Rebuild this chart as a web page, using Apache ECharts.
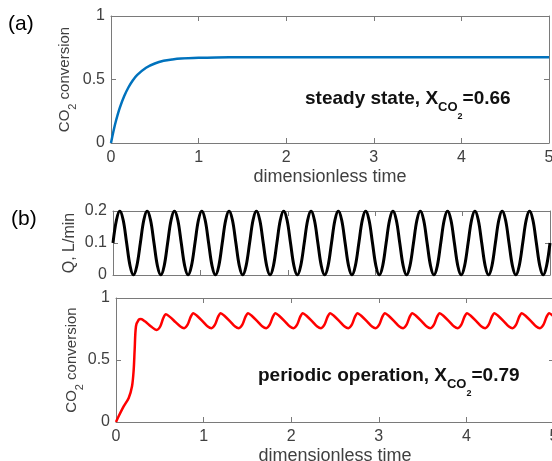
<!DOCTYPE html>
<html>
<head>
<meta charset="utf-8">
<title>CO2 conversion</title>
<script src="https://cdn.jsdelivr.net/npm/echarts@6/dist/echarts.min.js"></script>
</head>
<body style="margin:0">
<div id="main" style="width:552px;height:461px;"></div>
<script>
// (a) steady state run
var steadyT = [0, 0.03, 0.06, 0.1, 0.15, 0.2, 0.25, 0.3, 0.4, 0.5, 0.6, 0.7, 0.8, 1.0, 1.2, 1.5, 2, 3, 4, 5];
var steadyX = [0, 0.099, 0.183, 0.277, 0.368, 0.439, 0.494, 0.536, 0.593, 0.626, 0.647, 0.658, 0.665, 0.671, 0.674, 0.675, 0.675, 0.675, 0.675, 0.675];

// (b) feed flow, L/min
var flowT = [
  0, 0.039, 0.078, 0.117, 0.156, 0.195, 0.234, 0.273,
  0.313, 0.352, 0.391, 0.430, 0.469, 0.508, 0.547, 0.586,
  0.625, 0.664, 0.703, 0.742, 0.781, 0.820, 0.859, 0.898,
  0.938, 0.977, 1.016, 1.055, 1.094, 1.133, 1.172, 1.211,
  1.25, 1.289, 1.328, 1.367, 1.406, 1.445, 1.484, 1.523,
  1.563, 1.602, 1.641, 1.680, 1.719, 1.758, 1.797, 1.836,
  1.875, 1.914, 1.953, 1.992, 2.031, 2.070, 2.109, 2.148,
  2.188, 2.227, 2.266, 2.305, 2.344, 2.383, 2.422, 2.461,
  2.5, 2.539, 2.578, 2.617, 2.656, 2.695, 2.734, 2.773,
  2.813, 2.852, 2.891, 2.930, 2.969, 3.008, 3.047, 3.086,
  3.125, 3.164, 3.203, 3.242, 3.281, 3.320, 3.359, 3.398,
  3.438, 3.477, 3.516, 3.555, 3.594, 3.633, 3.672, 3.711,
  3.75, 3.789, 3.828, 3.867, 3.906, 3.945, 3.984, 4.023,
  4.063, 4.102, 4.141, 4.180, 4.219, 4.258, 4.297, 4.336,
  4.375, 4.414, 4.453, 4.492, 4.531, 4.570, 4.609, 4.648,
  4.688, 4.727, 4.766, 4.805, 4.844, 4.883, 4.922, 4.961,
  5
];
var flowQ = [
  0.1, 0.171, 0.2, 0.171, 0.1, 0.029, 0, 0.029,
  0.1, 0.171, 0.2, 0.171, 0.1, 0.029, 0, 0.029,
  0.1, 0.171, 0.2, 0.171, 0.1, 0.029, 0, 0.029,
  0.1, 0.171, 0.2, 0.171, 0.1, 0.029, 0, 0.029,
  0.1, 0.171, 0.2, 0.171, 0.1, 0.029, 0, 0.029,
  0.1, 0.171, 0.2, 0.171, 0.1, 0.029, 0, 0.029,
  0.1, 0.171, 0.2, 0.171, 0.1, 0.029, 0, 0.029,
  0.1, 0.171, 0.2, 0.171, 0.1, 0.029, 0, 0.029,
  0.1, 0.171, 0.2, 0.171, 0.1, 0.029, 0, 0.029,
  0.1, 0.171, 0.2, 0.171, 0.1, 0.029, 0, 0.029,
  0.1, 0.171, 0.2, 0.171, 0.1, 0.029, 0, 0.029,
  0.1, 0.171, 0.2, 0.171, 0.1, 0.029, 0, 0.029,
  0.1, 0.171, 0.2, 0.171, 0.1, 0.029, 0, 0.029,
  0.1, 0.171, 0.2, 0.171, 0.1, 0.029, 0, 0.029,
  0.1, 0.171, 0.2, 0.171, 0.1, 0.029, 0, 0.029,
  0.1, 0.171, 0.2, 0.171, 0.1, 0.029, 0, 0.029,
  0.1
];

// (b) periodic operation
var periodicT = [
  0, 0.03, 0.0875, 0.145, 0.183, 0.202, 0.213, 0.228, 0.259, 0.285, 0.33, 0.4,
  0.465, 0.505, 0.54, 0.57, 0.615, 0.68, 0.735,
  0.7775, 0.8175, 0.8525, 0.8825, 0.9275, 0.9925, 1.0475,
  1.09, 1.13, 1.165, 1.195, 1.24, 1.305, 1.36,
  1.4025, 1.4425, 1.4775, 1.5075, 1.5525, 1.6175, 1.6725,
  1.715, 1.755, 1.79, 1.82, 1.865, 1.93, 1.985,
  2.0275, 2.0675, 2.1025, 2.1325, 2.1775, 2.2425, 2.2975,
  2.34, 2.38, 2.415, 2.445, 2.49, 2.555, 2.61,
  2.6525, 2.6925, 2.7275, 2.7575, 2.8025, 2.8675, 2.9225,
  2.965, 3.005, 3.04, 3.07, 3.115, 3.18, 3.235,
  3.2775, 3.3175, 3.3525, 3.3825, 3.4275, 3.4925, 3.5475,
  3.59, 3.63, 3.665, 3.695, 3.74, 3.805, 3.86,
  3.9025, 3.9425, 3.9775, 4.0075, 4.0525, 4.1175, 4.1725,
  4.215, 4.255, 4.29, 4.32, 4.365, 4.43, 4.485,
  4.5275, 4.5675, 4.6025, 4.6325, 4.6775, 4.7425, 4.7975,
  4.84, 4.88, 4.915, 4.945, 4.99, 5
];
var periodicX = [
  0, 0.046, 0.126, 0.194, 0.288, 0.422, 0.583, 0.772, 0.825, 0.83, 0.812, 0.77,
  0.742, 0.77, 0.838, 0.868, 0.848, 0.805, 0.77,
  0.757, 0.785, 0.848, 0.878, 0.855, 0.81, 0.77,
  0.757, 0.785, 0.848, 0.878, 0.855, 0.81, 0.77,
  0.757, 0.785, 0.848, 0.878, 0.855, 0.81, 0.77,
  0.757, 0.785, 0.848, 0.878, 0.855, 0.81, 0.77,
  0.757, 0.785, 0.848, 0.878, 0.855, 0.81, 0.77,
  0.757, 0.785, 0.848, 0.878, 0.855, 0.81, 0.77,
  0.757, 0.785, 0.848, 0.878, 0.855, 0.81, 0.77,
  0.757, 0.785, 0.848, 0.878, 0.855, 0.81, 0.77,
  0.757, 0.785, 0.848, 0.878, 0.855, 0.81, 0.77,
  0.757, 0.785, 0.848, 0.878, 0.855, 0.81, 0.77,
  0.757, 0.785, 0.848, 0.878, 0.855, 0.81, 0.77,
  0.757, 0.785, 0.848, 0.878, 0.855, 0.81, 0.77,
  0.757, 0.785, 0.848, 0.878, 0.855, 0.81, 0.77,
  0.757, 0.785, 0.848, 0.878, 0.855, 0.85
];

var font = 'Liberation Sans, Arial, sans-serif';
var boxColor = '#7a7a7a';
var textColor = '#404040';

function pairs(xs, ys) {
  return xs.map(function (x, i) { return [x, ys[i]]; });
}

var co2Rich = {
  m: { fontSize: 15, fontFamily: font, color: textColor, lineHeight: 18, verticalAlign: 'top' },
  s: { fontSize: 11, fontFamily: font, color: textColor, lineHeight: 12, padding: [10, 0, 0, 0], verticalAlign: 'top' }
};

function xAxisFor(grid, top, showLabels, name) {
  return {
    gridIndex: grid, type: 'value', min: 0, max: 5, interval: 1,
    position: top ? 'top' : 'bottom',
    name: name || '', nameLocation: 'middle', nameGap: 25,
    nameTextStyle: { fontSize: 18, fontFamily: font, color: textColor },
    axisLine: { show: true, onZero: false, lineStyle: { color: boxColor } },
    axisTick: { inside: true, length: 5, lineStyle: { color: boxColor } },
    axisLabel: { show: showLabels, fontSize: 16, fontFamily: font, color: textColor, margin: 7 },
    splitLine: { show: false }
  };
}

function yAxisFor(grid, right, max, step, name, gap, rich) {
  return {
    gridIndex: grid, type: 'value', min: 0, max: max, interval: step,
    position: right ? 'right' : 'left',
    name: name || '', nameLocation: 'middle', nameGap: gap || 30,
    nameMoveOverlap: false,
    nameTextStyle: rich ? { rich: rich } : { fontSize: 16, fontFamily: font, color: textColor },
    axisLine: { show: true, onZero: false, lineStyle: { color: boxColor } },
    axisTick: { inside: true, length: 5, lineStyle: { color: boxColor } },
    axisLabel: { show: !right, fontSize: 16, fontFamily: font, color: textColor, margin: 6 },
    splitLine: { show: false }
  };
}

function note(left, top, lead, value) {
  return {
    type: 'text', left: left, top: top,
    style: {
      text: '{b|' + lead + ', X}{s|CO}{t|2}{b|=' + value + '}',
      rich: {
        b: { fontSize: 19, fontWeight: 'bold', fontFamily: font, fill: '#111', lineHeight: 22, verticalAlign: 'top' },
        s: { fontSize: 13, fontWeight: 'bold', fontFamily: font, fill: '#111', lineHeight: 14, padding: [12, 0, 0, 0], verticalAlign: 'top' },
        t: { fontSize: 9, fontWeight: 'bold', fontFamily: font, fill: '#111', lineHeight: 10, padding: [23, 0, 0, 0], verticalAlign: 'top' }
      }
    }
  };
}

var myChart = echarts.init(document.getElementById('main'));

var option = {
  animation: false,
  backgroundColor: '#fff',
  grid: [
    { left: 111, top: 16, width: 438, height: 127, outerBoundsMode: 'none' },
    { left: 113, top: 211, width: 437, height: 64, outerBoundsMode: 'none' },
    { left: 116, top: 298, width: 438, height: 124, outerBoundsMode: 'none' }
  ],
  xAxis: [
    xAxisFor(0, false, true, 'dimensionless time'),
    xAxisFor(0, true, false),
    xAxisFor(1, false, false),
    xAxisFor(1, true, false),
    xAxisFor(2, false, true, 'dimensionless time'),
    xAxisFor(2, true, false)
  ],
  yAxis: [
    yAxisFor(0, false, 1, 0.5, '{m|CO}{s|2}{m| conversion}', 36, co2Rich),
    yAxisFor(0, true, 1, 0.5),
    yAxisFor(1, false, 0.2, 0.1, 'Q, L/min', 35),
    yAxisFor(1, true, 0.2, 0.1),
    yAxisFor(2, false, 1, 0.5, '{m|CO}{s|2}{m| conversion}', 34, co2Rich),
    yAxisFor(2, true, 1, 0.5)
  ],
  series: [
    {
      type: 'line', xAxisIndex: 0, yAxisIndex: 0, showSymbol: false, smooth: 0.3,
      lineStyle: { color: '#0072BD', width: 2.5 },
      data: pairs(steadyT, steadyX)
    },
    {
      type: 'line', xAxisIndex: 2, yAxisIndex: 2, showSymbol: false, smooth: 0.35,
      lineStyle: { color: '#000', width: 3 },
      data: pairs(flowT, flowQ)
    },
    {
      type: 'line', xAxisIndex: 4, yAxisIndex: 4, showSymbol: false, smooth: 0.3,
      lineStyle: { color: '#ff0000', width: 2.5 },
      data: pairs(periodicT, periodicX)
    }
  ],
  graphic: [
    { type: 'text', left: 8, top: 14, style: { text: '(a)', fontSize: 21, fontFamily: font, fill: '#000' } },
    { type: 'text', left: 11, top: 209, style: { text: '(b)', fontSize: 21, fontFamily: font, fill: '#000' } },
    note(305, 89, 'steady state', '0.66'),
    note(258, 366, 'periodic operation', '0.79')
  ]
};

myChart.setOption(option);
</script>
</body>
</html>
